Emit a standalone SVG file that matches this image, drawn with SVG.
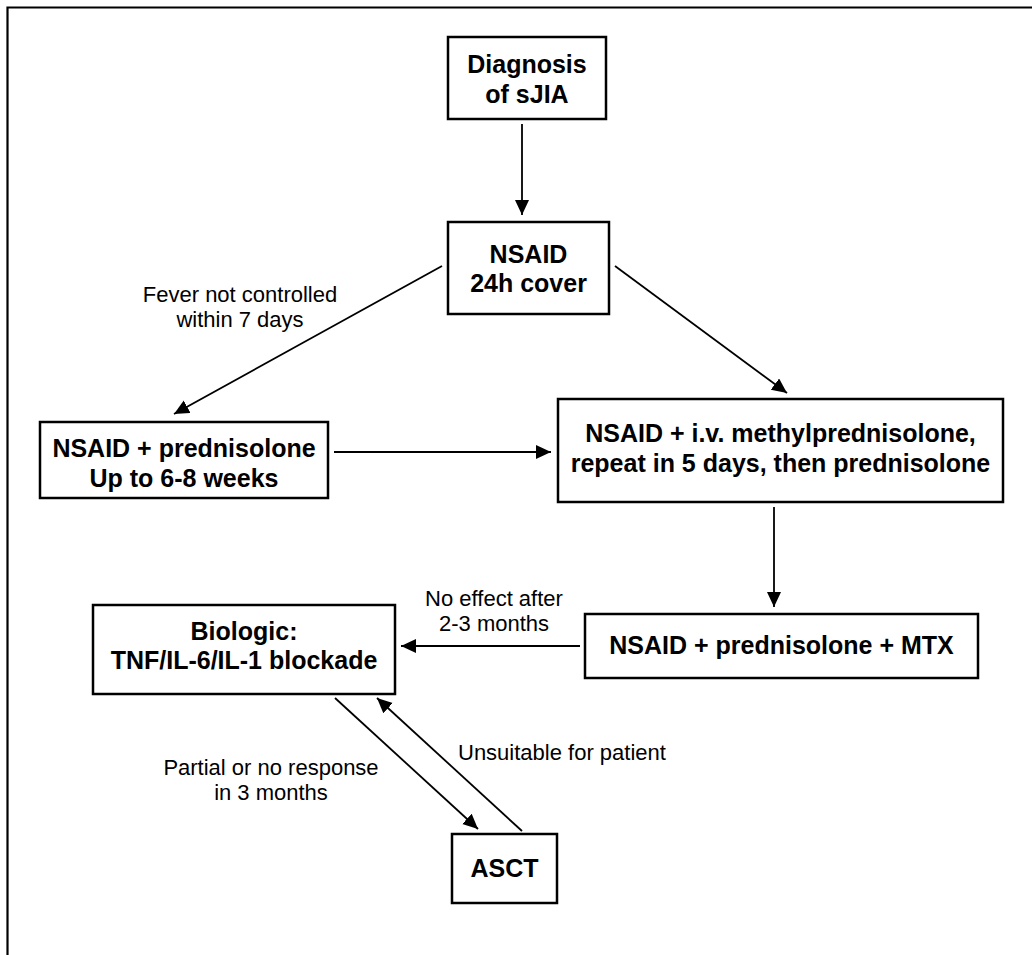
<svg xmlns="http://www.w3.org/2000/svg" width="1032" height="955" viewBox="0 0 1032 955">
<style>
.box{fill:#fff;stroke:#000;stroke-width:2.5}
.bt{font-family:"Liberation Sans",Arial,sans-serif;font-weight:bold;font-size:25px;text-anchor:middle;fill:#000}
.lt{font-family:"Liberation Sans",Arial,sans-serif;font-size:22px;text-anchor:middle;fill:#000}
.c{stroke:#000;stroke-width:1.8;fill:none;marker-end:url(#ah)}
</style>
<defs>
<marker id="ah" markerUnits="userSpaceOnUse" markerWidth="16" markerHeight="16" refX="15" refY="7" orient="auto">
<path d="M0,0 L15,7 L0,14 Z" fill="#000"/>
</marker>
</defs>
<rect width="1032" height="955" fill="#fff"/>
<path d="M7.5,955 V7.5 H1032" fill="none" stroke="#000" stroke-width="2.2"/>
<g id="connectors">
<line class="c" x1="522" y1="124" x2="522" y2="215"/>
<line class="c" x1="442" y1="266" x2="174" y2="414"/>
<line class="c" x1="615" y1="266" x2="787" y2="393"/>
<line class="c" x1="334" y1="452" x2="551" y2="452"/>
<line class="c" x1="774" y1="507" x2="774" y2="607"/>
<line class="c" x1="580" y1="646" x2="401" y2="646"/>
<line class="c" x1="335" y1="698" x2="478" y2="829"/>
<line class="c" x1="522" y1="831" x2="377" y2="698"/>
<text class="lt" x="240" y="302">Fever not controlled</text>
<text class="lt" x="240" y="327">within 7 days</text>
<text class="lt" x="494" y="606">No effect after</text>
<text class="lt" x="494" y="631">2-3 months</text>
<text class="lt" x="271" y="775">Partial or no response</text>
<text class="lt" x="271" y="800">in 3 months</text>
<text class="lt" x="458" y="760" style="text-anchor:start">Unsuitable for patient</text>
</g>
<g id="diagnosis">
<rect class="box" x="448" y="37" width="158" height="82"/>
<text class="bt" x="527" y="73">Diagnosis</text>
<text class="bt" x="527" y="103">of sJIA</text>
</g>
<g id="nsaid">
<rect class="box" x="448" y="222" width="161" height="92"/>
<text class="bt" x="528.5" y="263">NSAID</text>
<text class="bt" x="528.5" y="292">24h cover</text>
</g>
<g id="nsaid-pred">
<rect class="box" x="40" y="422" width="288" height="76"/>
<text class="bt" x="184" y="457">NSAID + prednisolone</text>
<text class="bt" x="184" y="487">Up to 6-8 weeks</text>
</g>
<g id="nsaid-ivmp">
<rect class="box" x="558" y="399" width="445" height="103"/>
<text class="bt" x="780.5" y="442">NSAID + i.v. methylprednisolone,</text>
<text class="bt" x="780.5" y="472">repeat in 5 days, then prednisolone</text>
</g>
<g id="nsaid-mtx">
<rect class="box" x="585" y="614" width="393" height="64"/>
<text class="bt" x="781.5" y="654">NSAID + prednisolone + MTX</text>
</g>
<g id="biologic">
<rect class="box" x="93" y="605" width="302" height="89"/>
<text class="bt" x="244" y="640">Biologic:</text>
<text class="bt" x="244" y="669">TNF/IL-6/IL-1 blockade</text>
</g>
<g id="asct">
<rect class="box" x="452" y="834" width="105" height="69"/>
<text class="bt" x="504.5" y="877">ASCT</text>
</g>
</svg>
